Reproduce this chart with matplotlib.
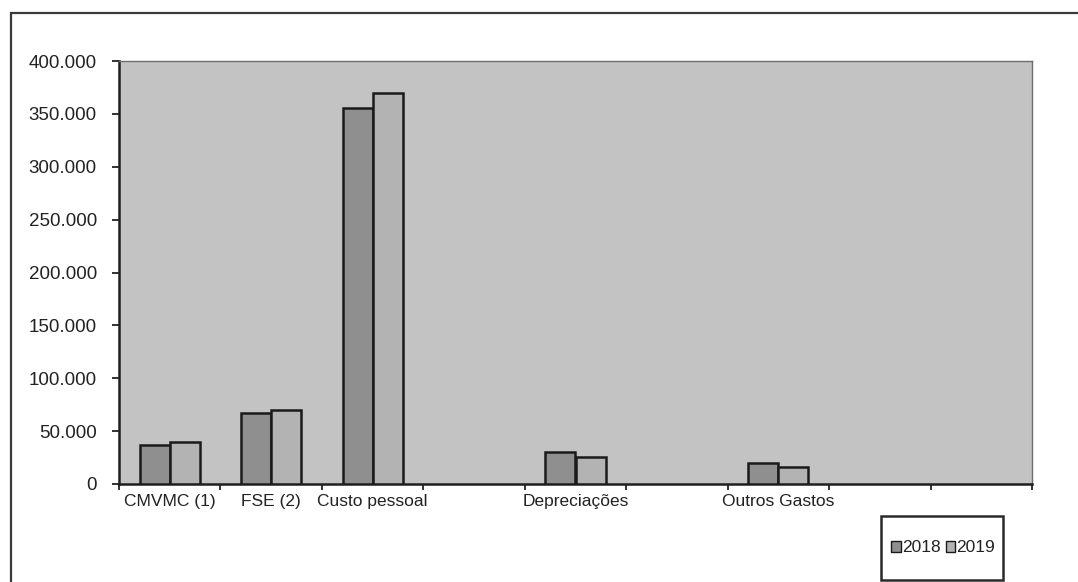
import matplotlib
matplotlib.use("Agg")
import matplotlib.pyplot as plt
from matplotlib.patches import Rectangle, Patch
from matplotlib.ticker import FuncFormatter, MultipleLocator
import numpy as np

categories = ["CMVMC (1)", "FSE (2)", "Custo pessoal", "", "Depreciações", "", "Outros Gastos", "", ""]
values_2018 = [37000, 67000, 356000, None, 30000, None, 20000, None, None]
values_2019 = [40000, 70000, 370000, None, 25500, None, 16000, None, None]
series_names = ["2018", "2019"]

plt.rcParams['font.family'] = ['Liberation Sans', 'DejaVu Sans']
TXT = "#222222"

W, H = 1078, 582
fig = plt.figure(figsize=(W / 100, H / 100), dpi=100)
fig.patch.set_facecolor("white")

# outer chart frame (partly cut by the scan)
fig.patches.append(Rectangle((11 / W, -0.2), 1.2, (H - 13) / H + 0.2,
                             transform=fig.transFigure, fill=False,
                             edgecolor="#3a3a3a", linewidth=1.6, zorder=0))

ax = fig.add_axes([119 / W, (H - 484) / H, (1032 - 119) / W, (484 - 61) / H])
ax.set_facecolor("#c3c3c3")

x = np.arange(len(categories))
v18 = np.array([np.nan if v is None else v for v in values_2018], dtype=float)
v19 = np.array([np.nan if v is None else v for v in values_2019], dtype=float)
bw = 0.296
ax.bar(x - bw / 2, v18, width=bw, color="#8f8f8f", edgecolor="#1a1a1a",
       linewidth=1.8, label=series_names[0], zorder=3)
ax.bar(x + bw / 2, v19, width=bw, color="#b3b3b3", edgecolor="#1a1a1a",
       linewidth=1.8, label=series_names[1], zorder=3)

ax.set_xlim(-0.5, len(categories) - 0.5)
ax.set_ylim(0, 400000)
ax.yaxis.set_major_locator(MultipleLocator(50000))
ax.yaxis.set_major_formatter(FuncFormatter(lambda v, p: f"{int(v):,}".replace(",", ".")))

ax.set_xticks(x)
ax.set_xticklabels(categories)
ax.set_xticks(np.arange(-0.5, len(categories), 1.0), minor=True)
ax.tick_params(axis="x", which="major", length=0, pad=7.5, labelsize=12.5, labelcolor=TXT)
ax.tick_params(axis="x", which="minor", length=4, width=1.3, direction="out", color="#222222")
ax.tick_params(axis="y", which="major", length=5, width=1.3, direction="out", pad=11,
               labelsize=13.5, labelcolor=TXT, color="#222222")

for side in ["top", "right"]:
    ax.spines[side].set_color("#6e6e6e")
    ax.spines[side].set_linewidth(1.0)
for side in ["left", "bottom"]:
    ax.spines[side].set_color("#1e1e1e")
    ax.spines[side].set_linewidth(1.8)

# legend box
fig.patches.append(Rectangle((881 / W, (H - 580) / H), 122 / W, 64 / H,
                             transform=fig.transFigure, fill=False,
                             edgecolor="#2a2a2a", linewidth=1.8, zorder=1))
handles = [Patch(facecolor="#8f8f8f", edgecolor="#1a1a1a", linewidth=1.0),
           Patch(facecolor="#b3b3b3", edgecolor="#1a1a1a", linewidth=1.0)]
leg = fig.legend(handles, series_names, ncol=2, loc="center",
                 bbox_to_anchor=(943 / W, (H - 548) / H),
                 fontsize=12.5, frameon=False,
                 handlelength=0.55, handleheight=0.55, handletextpad=0.05,
                 columnspacing=0.3, borderpad=0, borderaxespad=0)
for t in leg.get_texts():
    t.set_color(TXT)

fig.savefig("out.png", dpi=100, facecolor="white")
